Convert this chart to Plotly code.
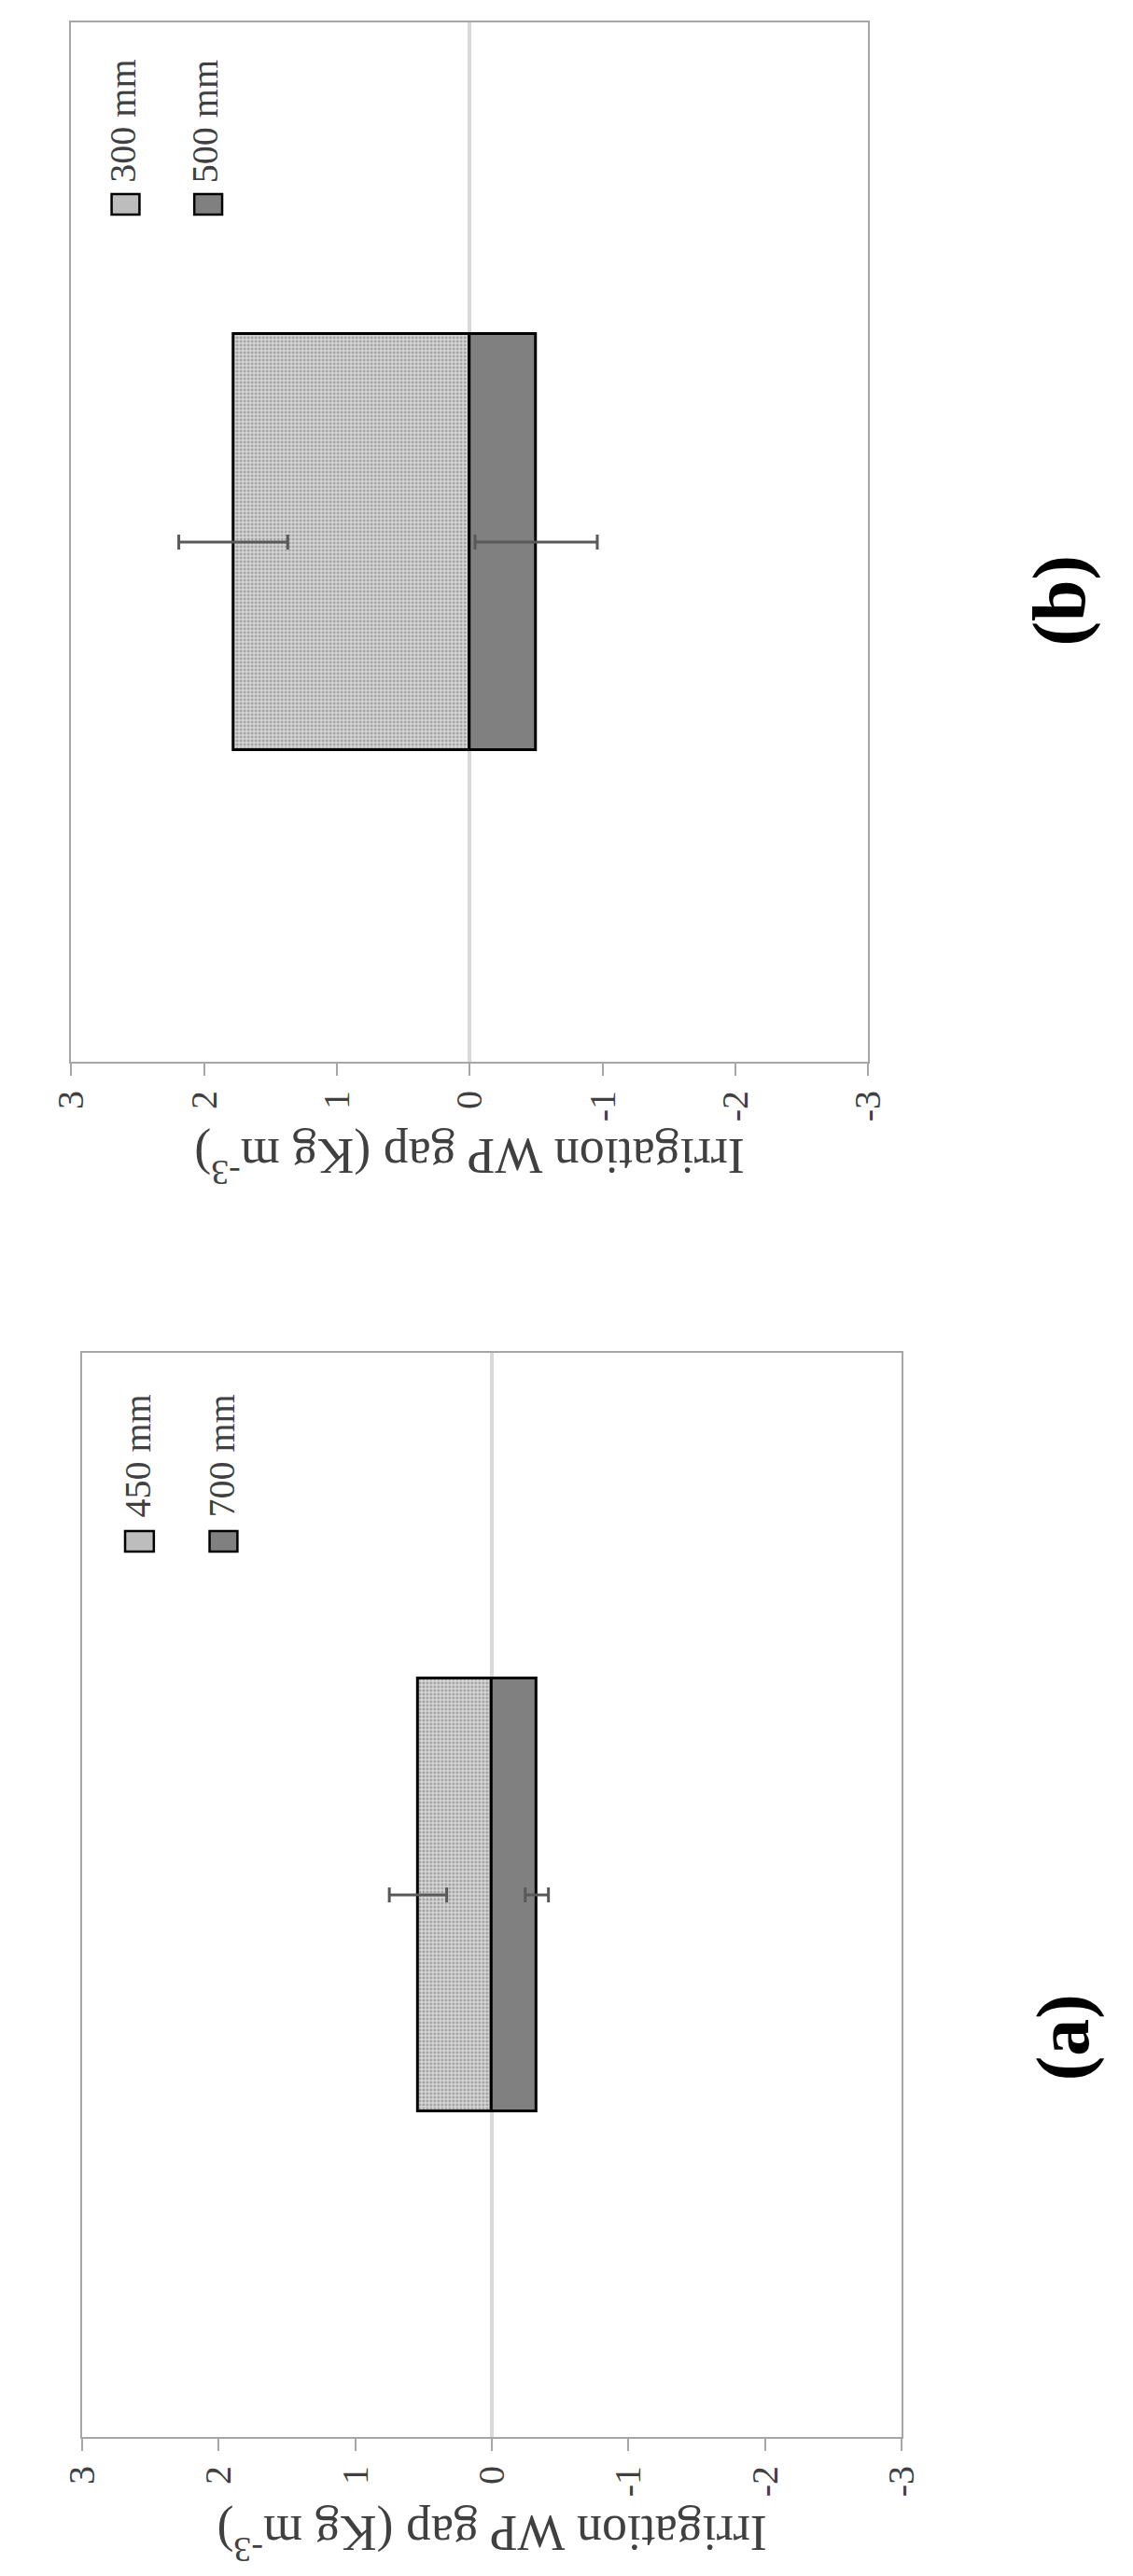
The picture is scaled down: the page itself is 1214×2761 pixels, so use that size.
import plotly.graph_objects as go

# ---------------- data ----------------
category = [0]
series_a = ["450 mm", "700 mm"]
values_a = [0.54, -0.33]
errors_a = [0.21, 0.085]

series_b = ["300 mm", "500 mm"]
values_b = [1.78, -0.50]
errors_b = [0.41, 0.46]

tick_vals = [3, 2, 1, 0, -1, -2, -3]
tick_text = ["3", "2", "1", "0", "-1", "-2", "-3"]
axis_title = "Irrigation WP gap (Kg m<sup>-3</sup>)"
panel_labels = ["(a)", "(b)"]

# ---------------- layout helpers ----------------
W, H = 1214, 2761
FONT = "Liberation Serif"
TXT = "#404040"
FRAME = "#a6a6a6"
LIGHT_BG = "#d6d6d6"
LIGHT_FG = "#6a6a6a"
DARK = "#808080"


def px(x):
    return x / W


def py(y):
    return 1 - y / H


fig = go.Figure()

panels = [
    dict(vals=values_b, errs=errors_b, names=series_b, xa="x", ya="y",
         box=(47, 934, 16, 1130), label=panel_labels[1], label_pos=(1146, 636),
         title_pos=(490, 1236), leg_x=[(92, 123), (184, 215)], leg_y=(200, 222), leg_text_bottom=190),
    dict(vals=values_a, errs=errors_a, names=series_a, xa="x2", ya="y2",
         box=(59, 971, 1442, 2604), label=panel_labels[0], label_pos=(1151, 2176),
         title_pos=(515, 2712), leg_x=[(107, 139), (201, 232)], leg_y=(1633, 1655), leg_text_bottom=1621),
]

annotations = []
shapes = []

for p in panels:
    light = dict(color=LIGHT_BG,
                 pattern=dict(shape=".", bgcolor=LIGHT_BG, fgcolor=LIGHT_FG, size=4, solidity=0.4),
                 line=dict(color="black", width=3))
    dark = dict(color=DARK, line=dict(color="black", width=3))
    for i, (v, e, n) in enumerate(zip(p["vals"], p["errs"], p["names"])):
        fig.add_trace(go.Bar(
            x=[v], y=category, orientation="h", width=0.4, name=n,
            marker=light if i == 0 else dark,
            error_x=dict(type="data", array=[e], color="#595959", thickness=3, width=8),
            xaxis=p["xa"], yaxis=p["ya"], showlegend=False,
        ))

    x0, x1, y0, y1 = p["box"]
    xkey = "xaxis" if p["xa"] == "x" else "xaxis2"
    ykey = "yaxis" if p["ya"] == "y" else "yaxis2"
    fig.update_layout({
        xkey: dict(domain=[px(x0), px(x1)], anchor=p["ya"], range=[3, -3],
                   tickvals=tick_vals, ticktext=tick_text, tickangle=-90,
                   tickfont=dict(family=FONT, size=40, color=TXT),
                   ticks="outside", ticklen=13, tickwidth=2, tickcolor=FRAME,
                   ticklabelstandoff=0,
                   showline=True, mirror=True, linecolor=FRAME, linewidth=2,
                   showgrid=False, zeroline=True, zerolinecolor="#d9d9d9", zerolinewidth=4,
                   layer="above traces", fixedrange=True),
        ykey: dict(domain=[py(y1), py(y0)], anchor=p["xa"], range=[-0.5, 0.5],
                   showticklabels=False, ticks="", showgrid=False, zeroline=False,
                   showline=True, mirror=True, linecolor=FRAME, linewidth=2, fixedrange=True),
    })

    # axis title (rotated figure -> upside down)
    tx, ty = p["title_pos"]
    annotations.append(dict(x=px(tx), y=py(ty), xref="paper", yref="paper", text=axis_title,
                            textangle=180, showarrow=False, xanchor="center", yanchor="middle",
                            font=dict(family=FONT, size=54, color=TXT)))
    # panel label
    lx, ly = p["label_pos"]
    annotations.append(dict(x=px(lx), y=py(ly), xref="paper", yref="paper", text="<b>" + p["label"] + "</b>",
                            textangle=-90, showarrow=False, xanchor="center", yanchor="middle",
                            font=dict(family=FONT, size=80, color="black")))
    # legend
    ly0, ly1 = p["leg_y"]
    for i, ((sx0, sx1), n) in enumerate(zip(p["leg_x"], p["names"])):
        shapes.append(dict(type="rect", xref="paper", yref="paper",
                           x0=px(sx0), x1=px(sx1), y0=py(ly1), y1=py(ly0),
                           fillcolor="#bdbdbd" if i == 0 else DARK,
                           line=dict(color="black", width=2.5)))
        annotations.append(dict(x=px((sx0 + sx1) / 2 - 3), y=py(p["leg_text_bottom"]), xref="paper", yref="paper",
                                text=n, textangle=-90, showarrow=False, xanchor="center", yanchor="bottom",
                                font=dict(family=FONT, size=40, color=TXT)))

fig.update_layout(
    width=W, height=H,
    margin=dict(l=0, r=0, t=0, b=0),
    paper_bgcolor="white", plot_bgcolor="white",
    barmode="relative", bargap=0,
    annotations=annotations, shapes=shapes,
    showlegend=False,
)

fig.write_html("out.html")
